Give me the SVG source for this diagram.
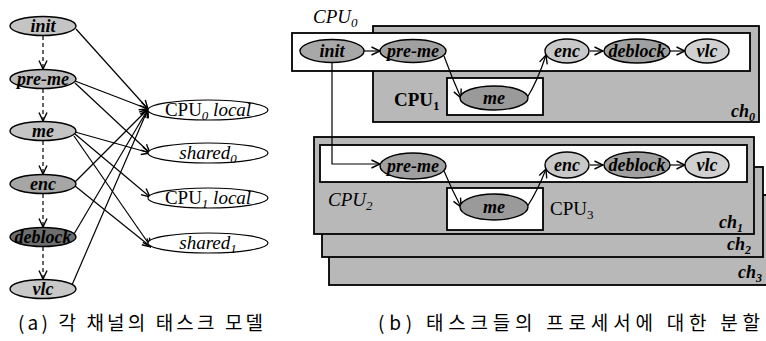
<svg xmlns="http://www.w3.org/2000/svg" width="766" height="341" viewBox="0 0 766 341">
<style>
.t{font-family:"Liberation Serif",serif;font-weight:bold;font-style:italic;font-size:18px;text-anchor:middle}
.n{stroke:#000;stroke-width:1.4}
.e{fill:#fff;stroke:#000;stroke-width:1.2}
.l{font-family:"Liberation Serif",serif;font-style:italic;font-size:19px;text-anchor:middle}
.c{fill:none;stroke:#000;stroke-width:1.2}
.d{stroke-dasharray:4 3}
.ch{fill:#b8b8b8;stroke:#000;stroke-width:1.8}
.w{fill:#fff;stroke:#000;stroke-width:1.8}
.cap{font-family:"Noto Sans CJK KR",sans-serif;font-size:19px}
.lb{font-family:"Liberation Serif",serif;font-size:19px}
</style>
<defs>
<marker id="a" viewBox="0 0 10 10" refX="9.5" refY="5" markerWidth="10" markerHeight="10" orient="auto" markerUnits="userSpaceOnUse"><path d="M1,1 L9.5,5 L1,9" fill="none" stroke="#000" stroke-width="1.4"/></marker>
</defs>

<!-- (a) connectors -->
<g id="connectors-a">
<line class="c d" x1="43" y1="36" x2="43" y2="69" marker-end="url(#a)"/>
<line class="c d" x1="43" y1="89" x2="43" y2="121" marker-end="url(#a)"/>
<line class="c d" x1="43" y1="141" x2="43" y2="174" marker-end="url(#a)"/>
<line class="c d" x1="43" y1="194" x2="43" y2="227" marker-end="url(#a)"/>
<line class="c d" x1="43" y1="247" x2="43" y2="279" marker-end="url(#a)"/>
<line class="c" x1="76" y1="29" x2="148" y2="109" marker-end="url(#a)"/>
<line class="c" x1="75" y1="81" x2="148" y2="109" marker-end="url(#a)"/>
<line class="c" x1="75" y1="83" x2="150" y2="153" marker-end="url(#a)"/>
<line class="c" x1="75" y1="132" x2="150" y2="153" marker-end="url(#a)"/>
<line class="c" x1="75" y1="134" x2="150" y2="197" marker-end="url(#a)"/>
<line class="c" x1="74" y1="136" x2="151" y2="247" marker-end="url(#a)"/>
<line class="c" x1="75" y1="182" x2="148" y2="109" marker-end="url(#a)"/>
<line class="c" x1="75" y1="186" x2="151" y2="247" marker-end="url(#a)"/>
<line class="c" x1="74" y1="234" x2="148" y2="109" marker-end="url(#a)"/>
<line class="c" x1="72" y1="285" x2="148" y2="109" marker-end="url(#a)"/>
</g>

<!-- (a) nodes -->
<g id="a-init"><ellipse class="n" cx="43" cy="26" rx="33" ry="9.5" fill="#c4c4c4"/><text class="t" x="43" y="32">init</text></g>
<g id="a-preme"><ellipse class="n" cx="43" cy="79" rx="33" ry="9.5" fill="#bcbcbc"/><text class="t" x="43" y="85">pre-me</text></g>
<g id="a-me"><ellipse class="n" cx="43" cy="131" rx="33" ry="9.5" fill="#c4c4c4"/><text class="t" x="43" y="137">me</text></g>
<g id="a-enc"><ellipse class="n" cx="43" cy="184" rx="33" ry="9.5" fill="#a6a6a6"/><text class="t" x="43" y="190">enc</text></g>
<g id="a-deblock"><ellipse class="n" cx="43" cy="237" rx="33" ry="9.5" fill="#6e6e6e"/><text class="t" x="43" y="243">deblock</text></g>
<g id="a-vlc"><ellipse class="n" cx="43" cy="289" rx="33" ry="9.5" fill="#c8c8c8"/><text class="t" x="43" y="295">vlc</text></g>

<g id="a-cpu0local"><ellipse class="e" cx="208" cy="110" rx="60" ry="10"/><text class="l" x="208" y="116"><tspan font-style="normal">CPU</tspan><tspan font-size="13" dy="4">0</tspan><tspan dy="-4"> local</tspan></text></g>
<g id="a-shared0"><ellipse class="e" cx="208" cy="153" rx="60" ry="10"/><text class="l" x="208" y="159">shared<tspan font-size="13" dy="4">0</tspan></text></g>
<g id="a-cpu1local"><ellipse class="e" cx="208" cy="198" rx="60" ry="10"/><text class="l" x="208" y="204"><tspan font-style="normal">CPU</tspan><tspan font-size="13" dy="4">1</tspan><tspan dy="-4"> local</tspan></text></g>
<g id="a-shared1"><ellipse class="e" cx="208" cy="243" rx="60" ry="10"/><text class="l" x="208" y="249">shared<tspan font-size="13" dy="4">1</tspan></text></g>

<!-- (b) channel blocks -->
<g id="ch3"><rect class="ch" x="329" y="195" width="445" height="90"/><text class="t" x="750" y="278" font-size="18">ch<tspan font-size="12" dy="4">3</tspan></text></g>
<g id="ch2"><rect class="ch" x="322" y="167" width="441" height="90"/><text class="t" x="739" y="250" font-size="18">ch<tspan font-size="12" dy="4">2</tspan></text></g>
<g id="ch1"><rect class="ch" x="314" y="137" width="440" height="97"/><text class="t" x="731" y="228" font-size="18">ch<tspan font-size="12" dy="4">1</tspan></text>
<rect class="w" x="320" y="145" width="427" height="37"/>
<rect class="w" x="447" y="188" width="96" height="42"/>
<text class="lb" x="328" y="206" font-style="italic">CPU<tspan font-size="13" dy="4">2</tspan></text>
<text class="lb" x="550" y="215">CPU<tspan font-size="13" dy="4">3</tspan></text>
</g>
<g id="ch0"><rect class="ch" x="373" y="26" width="386" height="96"/><text class="t" x="743" y="117" font-size="18">ch<tspan font-size="12" dy="4">0</tspan></text>
<rect class="w" x="292" y="33" width="458" height="38"/>
<rect class="w" x="447" y="78" width="96" height="37"/>
<text class="lb" x="394" y="106" font-weight="bold">CPU<tspan font-size="13" dy="4">1</tspan></text>
<text class="lb" x="313" y="23" font-style="italic">CPU<tspan font-size="13" dy="4">0</tspan></text>
</g>

<!-- (b) connectors -->
<g id="connectors-b">
<line class="c" x1="364" y1="51" x2="380" y2="51" marker-end="url(#a)"/>
<path class="c" d="M444,56 Q452,78 461,98" marker-end="url(#a)"/>
<path class="c" d="M527,98 Q538,80 546,55" marker-end="url(#a)"/>
<line class="c" x1="590" y1="51" x2="603" y2="51" marker-end="url(#a)"/>
<line class="c" x1="670" y1="51" x2="685" y2="51" marker-end="url(#a)"/>
<path class="c" d="M332,63 L332,164 L380,164" marker-end="url(#a)"/>
<path class="c" d="M444,171 Q452,190 461,207" marker-end="url(#a)"/>
<path class="c" d="M527,207 Q538,190 546,169" marker-end="url(#a)"/>
<line class="c" x1="590" y1="165" x2="603" y2="165" marker-end="url(#a)"/>
<line class="c" x1="670" y1="165" x2="685" y2="165" marker-end="url(#a)"/>
</g>

<!-- (b) nodes -->
<g id="b-init"><ellipse class="n" cx="332" cy="51" rx="32" ry="11.5" fill="#a8a8a8"/><text class="t" x="332" y="57">init</text></g>
<g id="b-preme0"><ellipse class="n" cx="413" cy="51" rx="33" ry="11.5" fill="#a0a0a0"/><text class="t" x="413" y="57">pre-me</text></g>
<g id="b-me0"><ellipse class="n" cx="494" cy="98" rx="34" ry="12" fill="#9a9a9a"/><text class="t" x="494" y="104">me</text></g>
<g id="b-enc0"><ellipse class="n" cx="567" cy="51" rx="22" ry="12" fill="#c8c8c8"/><text class="t" x="567" y="57">enc</text></g>
<g id="b-deblock0"><ellipse class="n" cx="637" cy="51" rx="33" ry="12" fill="#a0a0a0"/><text class="t" x="637" y="57">deblock</text></g>
<g id="b-vlc0"><ellipse class="n" cx="707" cy="51" rx="22" ry="12" fill="#d0d0d0"/><text class="t" x="707" y="57">vlc</text></g>

<g id="b-preme1"><ellipse class="n" cx="413" cy="166" rx="33" ry="13" fill="#a0a0a0"/><text class="t" x="413" y="172">pre-me</text></g>
<g id="b-me1"><ellipse class="n" cx="494" cy="207" rx="34" ry="13" fill="#9a9a9a"/><text class="t" x="494" y="213">me</text></g>
<g id="b-enc1"><ellipse class="n" cx="567" cy="165" rx="22" ry="13" fill="#c8c8c8"/><text class="t" x="567" y="171">enc</text></g>
<g id="b-deblock1"><ellipse class="n" cx="637" cy="165" rx="33" ry="13" fill="#a0a0a0"/><text class="t" x="637" y="171">deblock</text></g>
<g id="b-vlc1"><ellipse class="n" cx="707" cy="165" rx="22" ry="13" fill="#d0d0d0"/><text class="t" x="707" y="171">vlc</text></g>

<!-- captions -->
<text class="cap" x="18" y="330" textLength="245" lengthAdjust="spacing">(a) 각 채널의 태스크 모델</text>
<text class="cap" x="378" y="330" textLength="382" lengthAdjust="spacing">(b) 태스크들의 프로세서에 대한 분할</text>
</svg>
